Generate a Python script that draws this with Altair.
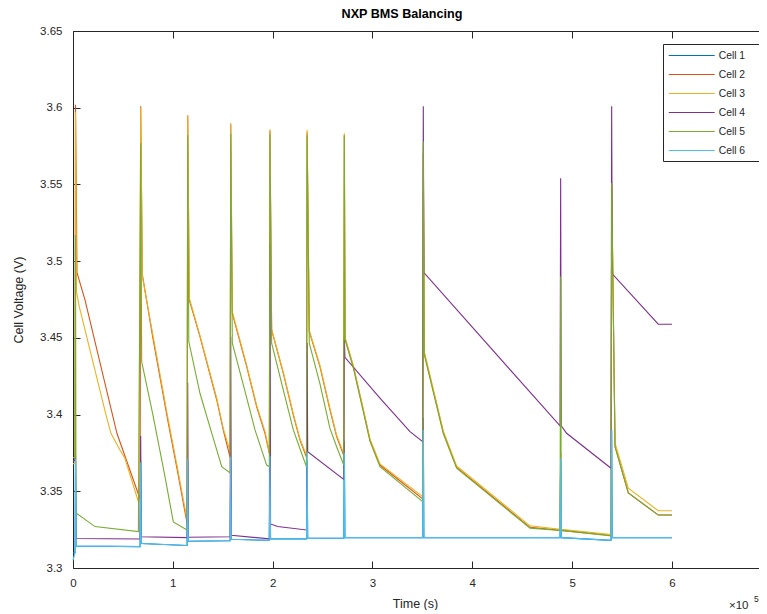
import altair as alt
import pandas as pd

CELLS = ["Cell 1", "Cell 2", "Cell 3", "Cell 4", "Cell 5", "Cell 6"]
COLORS = ["#0072BD", "#D95319", "#EDB120", "#7E2F8E", "#77AC30", "#4DBEEE"]

X_TICKS = [0, 1, 2, 3, 4, 5, 6]
Y_TICKS = [3.3, 3.35, 3.4, 3.45, 3.5, 3.55, 3.6, 3.65]

TITLE = "NXP BMS Balancing"
X_TITLE = "Time (s)"
Y_TITLE = "Cell Voltage (V)"

# time in units of 1e5 s, voltage in V
T_BASE = [0, 0.02, 0.025, 0.031, 0.672, 0.678, 0.684, 1.143, 1.149, 1.155,
          1.574, 1.58, 1.586, 1.967, 1.973, 1.979, 2.339, 2.345, 2.351,
          2.712, 2.718, 2.724, 3.503, 3.509, 3.515, 4.879, 4.885, 4.891,
          5.39, 5.396, 5.402, 6.0]

V1 = [3.310, 3.310, 3.370, 3.3143, 3.3139, 3.370, 3.3160, 3.3147, 3.370, 3.3174,
      3.3178, 3.370, 3.3187, 3.3180, 3.370, 3.3190, 3.3190, 3.370, 3.3193,
      3.3195, 3.383, 3.3198, 3.3198, 3.398, 3.3198, 3.3198, 3.370, 3.3198,
      3.3180, 3.390, 3.3198, 3.3198]

V6 = [3.305, 3.310, 3.371, 3.3143, 3.3139, 3.369, 3.3160, 3.3147, 3.371, 3.3174,
      3.3178, 3.3726, 3.3187, 3.3180, 3.373, 3.3190, 3.3190, 3.376, 3.3193,
      3.3195, 3.375, 3.3198, 3.3198, 3.390, 3.3198, 3.3198, 3.3717, 3.3198,
      3.3180, 3.390, 3.3198, 3.3198]

T2 = [0, 0.02, 0.025, 0.04, 0.12, 0.44, 0.672,
      0.678, 0.695, 0.80, 0.95, 1.05, 1.143,
      1.149, 1.165, 1.272, 1.44, 1.505, 1.574,
      1.58, 1.596, 1.74, 1.84, 1.923, 1.967,
      1.973, 1.99, 2.107, 2.207, 2.274, 2.339,
      2.345, 2.367, 2.474, 2.574, 2.641, 2.712,
      2.718, 2.725, 2.808, 2.908, 2.975, 3.075, 3.503,
      3.509, 3.519, 3.71, 3.843, 4.578, 4.879, 4.885, 4.891, 5.39,
      5.396, 5.43, 5.563, 5.863, 6.0]
V2 = [3.370, 3.370, 3.602, 3.4925, 3.4747, 3.3878, 3.3450,
      3.601, 3.491, 3.450, 3.396, 3.362, 3.329,
      3.595, 3.4747, 3.4508, 3.4095, 3.390, 3.372,
      3.589, 3.466, 3.4313, 3.405, 3.3878, 3.3745,
      3.585, 3.4551, 3.4269, 3.3997, 3.3834, 3.3722,
      3.584, 3.454, 3.4313, 3.403, 3.3856, 3.3733,
      3.582, 3.4497, 3.4313, 3.403, 3.3834, 3.3671, 3.3450,
      3.570, 3.440, 3.3882, 3.3655, 3.3265, 3.3245, 3.375, 3.3245, 3.3212,
      3.550, 3.379, 3.349, 3.3345, 3.3345]

T3 = [0, 0.02, 0.025, 0.035, 0.063, 0.14, 0.33, 0.38, 0.47, 0.52, 0.66,
      0.678, 0.695, 0.80, 0.95, 1.05, 1.143,
      1.149, 1.165, 1.272, 1.44, 1.505, 1.574,
      1.58, 1.596, 1.74, 1.84, 1.923, 1.967,
      1.973, 1.99, 2.107, 2.207, 2.274, 2.339,
      2.345, 2.367, 2.474, 2.574, 2.641, 2.712,
      2.718, 2.725, 2.808, 2.908, 2.975, 3.075, 3.503,
      3.509, 3.519, 3.71, 3.843, 4.578, 4.879, 4.885, 4.891, 5.39,
      5.396, 5.43, 5.563, 5.863, 6.0]
V3 = [3.368, 3.368, 3.597, 3.480, 3.4704, 3.450, 3.400, 3.3878, 3.3769, 3.3715, 3.3422,
      3.600, 3.490, 3.452, 3.398, 3.364, 3.3313,
      3.595, 3.4758, 3.4515, 3.4105, 3.391, 3.376,
      3.590, 3.467, 3.432, 3.406, 3.389, 3.3755,
      3.586, 3.4555, 3.4275, 3.4005, 3.384, 3.3735,
      3.5856, 3.4548, 3.432, 3.404, 3.3865, 3.3745,
      3.5834, 3.4505, 3.432, 3.4035, 3.384, 3.3678, 3.3465,
      3.575, 3.441, 3.3892, 3.3665, 3.3275, 3.3252, 3.375, 3.3252, 3.3218,
      3.552, 3.3813, 3.352, 3.3373, 3.3373]

T4 = [0, 0.02, 0.025, 0.03, 0.672, 0.678, 0.684, 1.143, 1.149, 1.155,
      1.574, 1.58, 1.586, 1.967, 1.973, 1.979, 2.05, 2.339, 2.345, 2.351,
      2.712, 2.718, 2.724, 3.077, 3.376, 3.503, 3.509, 3.515, 4.879, 4.885,
      4.891, 4.945, 5.39, 5.396, 5.402, 5.863, 6.0]
V4 = [3.370, 3.370, 3.374, 3.3192, 3.3189, 3.386, 3.3204, 3.3198, 3.4208, 3.3200,
      3.3204, 3.4508, 3.3213, 3.3190, 3.512, 3.3287, 3.327, 3.3248, 3.4467, 3.3758,
      3.3578, 3.450, 3.4373, 3.4106, 3.3889, 3.3823, 3.601, 3.4925, 3.3926, 3.554,
      3.3926, 3.3878, 3.365, 3.601, 3.4917, 3.4589, 3.4589]

T5 = [0, 0.02, 0.025, 0.03, 0.22, 0.655,
      0.678, 0.688, 0.80, 0.92, 1.005, 1.143,
      1.149, 1.16, 1.272, 1.38, 1.49, 1.574,
      1.58, 1.596, 1.72, 1.823, 1.94, 1.967,
      1.973, 1.99, 2.107, 2.207, 2.29, 2.339,
      2.345, 2.367, 2.474, 2.574, 2.641, 2.712,
      2.718, 2.725, 2.808, 2.908, 2.975, 3.075, 3.503,
      3.509, 3.519, 3.71, 3.843, 4.578, 4.879, 4.885, 4.891, 5.39,
      5.396, 5.43, 5.563, 5.863, 6.0]
V5 = [3.372, 3.372, 3.517, 3.3358, 3.327, 3.3237,
      3.577, 3.4345, 3.400, 3.360, 3.330, 3.3248,
      3.582, 3.4476, 3.4139, 3.390, 3.366, 3.362,
      3.583, 3.4465, 3.416, 3.390, 3.3671, 3.366,
      3.5827, 3.4465, 3.416, 3.390, 3.3748, 3.366,
      3.582, 3.4465, 3.420, 3.391, 3.379, 3.3671,
      3.582, 3.4490, 3.4305, 3.402, 3.3825, 3.3660, 3.3433,
      3.578, 3.439, 3.3875, 3.365, 3.326, 3.3245, 3.490, 3.3245, 3.321,
      3.551, 3.379, 3.349, 3.3345, 3.3345]

SERIES = [(T_BASE, V1), (T2, V2), (T3, V3), (T4, V4), (T5, V5), (T_BASE, V6)]

rows = []
for name, (ts, vs) in zip(CELLS, SERIES):
    assert len(ts) == len(vs), name
    for i, (t, v) in enumerate(zip(ts, vs)):
        rows.append({"cell": name, "t": t, "v": v, "i": i})
df = pd.DataFrame(rows)

FONT = "Liberation Sans"
INK = "#262626"

# plot area: 686 px wide showing 0..6.872 (x10^5 s) so that 6 lands where the reference has it
xscale = alt.Scale(domain=[0, 6.872], nice=False, zero=False)
yscale = alt.Scale(domain=[3.3, 3.65], nice=False, zero=False)

lines = alt.Chart(df).mark_line(strokeWidth=1.1).encode(
    x=alt.X("t:Q", scale=xscale,
            axis=alt.Axis(orient="bottom", values=X_TICKS, format="d", domain=True,
                          ticks=False, labelPadding=9, title=X_TITLE,
                          titleX=342, titleY=35, titleBaseline="middle")),
    y=alt.Y("v:Q", scale=yscale,
            axis=alt.Axis(orient="left", values=Y_TICKS, format=".2~f", domain=True,
                          ticks=False, labelPadding=11, title=Y_TITLE,
                          titleX=-55, titleBaseline="middle")),
    color=alt.Color("cell:N", scale=alt.Scale(domain=CELLS, range=COLORS),
                    legend=alt.Legend(title=None, orient="none", legendX=590, legendY=13,
                                      symbolType="M-1,0H7", symbolSize=132,
                                      symbolStrokeWidth=1, labelOffset=37.75,
                                      labelExpr="datum.label + '\u2002\u2002\u200b'",
                                      labelFont=FONT, labelFontSize=10.3, labelColor=INK,
                                      padding=5, rowPadding=7, strokeColor=INK,
                                      fillColor="white", cornerRadius=0)),
    order=alt.Order("i:Q"),
)

# inward ticks on bottom and left
ticks_bl = alt.Chart(df).mark_point(opacity=0).encode(
    x=alt.X("t:Q", scale=xscale,
            axis=alt.Axis(orient="bottom", values=X_TICKS, labels=False, offset=-7,
                          domain=False, ticks=True, tickSize=7, title=None)),
    y=alt.Y("v:Q", scale=yscale,
            axis=alt.Axis(orient="left", values=Y_TICKS, labels=False, offset=-7,
                          domain=False, ticks=True, tickSize=7, title=None)),
)

# top border line
top_line = alt.Chart(df).mark_point(opacity=0).encode(
    x=alt.X("t:Q", scale=xscale,
            axis=alt.Axis(orient="top", values=X_TICKS, labels=False, domain=True,
                          ticks=False, title=None)),
    y=alt.Y("v:Q", scale=yscale, axis=None),
)

# inward ticks on top
ticks_top = alt.Chart(df).mark_point(opacity=0).encode(
    x=alt.X("t:Q", scale=xscale,
            axis=alt.Axis(orient="top", values=X_TICKS, labels=False, offset=-7,
                          domain=False, ticks=True, tickSize=7, title=None)),
    y=alt.Y("v:Q", scale=yscale, axis=None),
)

text_df = pd.DataFrame({"title": [TITLE], "base": ["\u00d710"], "power": ["5"]})
title_mark = alt.Chart(text_df).mark_text(align="center", baseline="alphabetic", font=FONT,
                                          fontSize=12.6, fontWeight="bold",
                                          color="black").encode(
    x=alt.value(329), y=alt.value(-13), text="title:N")
exp_base = alt.Chart(text_df).mark_text(align="left", baseline="alphabetic", font=FONT,
                                        fontSize=11.5, color=INK).encode(
    x=alt.value(656), y=alt.value(578), text="base:N")
exp_pow = alt.Chart(text_df).mark_text(align="left", baseline="alphabetic", font=FONT,
                                       fontSize=8.5, color=INK).encode(
    x=alt.value(681), y=alt.value(571), text="power:N")

chart = alt.layer(lines, ticks_bl, top_line, ticks_top, title_mark, exp_base, exp_pow).resolve_axis(
    x="independent", y="independent"
).properties(
    width=686, height=537,
    autosize=alt.AutoSizeParams(type="none"),
    padding={"left": 65, "top": 23, "right": 0, "bottom": 42},
).configure_view(
    stroke=None
).configure_axis(
    grid=False, domainColor=INK, domainWidth=1, tickColor=INK, tickWidth=1,
    labelColor=INK, labelFont=FONT, labelFontSize=11.5, labelFlush=False,
    labelOverlap=False, titleFont=FONT, titleFontSize=12.5,
    titleFontWeight="normal", titleColor=INK
)

chart.save("out.html", embed_options={"renderer": "svg", "actions": False})
